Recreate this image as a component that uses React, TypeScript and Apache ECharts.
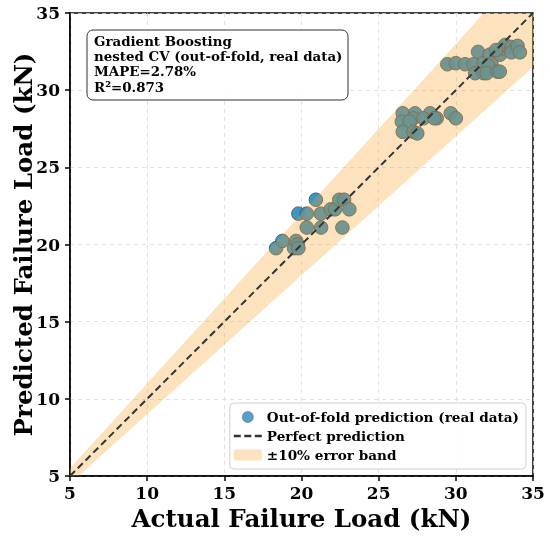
import React, { useEffect, useRef } from "react";
import * as echarts from "echarts";

const actualLoad: number[] = [
  18.35, 18.76, 19.52, 19.65, 19.75, 19.8, 19.8, 20.34, 20.34, 20.93, 21.25, 21.27, 21.9, 22.17, 22.45, 22.76, 23.1, 22.65,
  26.56, 27.36, 28.33, 29.67, 30.0, 26.5, 27.25, 27.9, 28.76, 27.0, 26.56, 27.25, 27.5, 28.6,
  29.45, 30.0, 30.6, 31.14, 31.25, 31.44, 31.8, 31.8, 32.2, 32.3, 32.1, 32.0, 32.7, 32.87, 32.98, 33.2, 33.6, 33.6, 34.0, 34.15, 32.85, 32.6,
];
const predictedLoad: number[] = [
  19.76, 20.23, 19.76, 20.23, 20.0, 19.76, 22.0, 22.0, 21.1, 22.9, 22.0, 21.1, 22.28, 22.28, 22.9, 22.9, 22.28, 21.1,
  28.5, 28.5, 28.5, 28.5, 28.18, 27.96, 28.18, 28.18, 28.18, 27.96, 27.3, 27.3, 27.2, 28.18,
  31.68, 31.75, 31.68, 31.68, 31.1, 32.48, 31.75, 31.1, 32.3, 31.75, 31.6, 31.1, 31.2, 32.3, 32.7, 32.93, 32.8, 32.45, 32.87, 32.45, 31.2, 32.6,
];
const axisMin = 5;
const axisMax = 35;
const tickStep = 5;
const bandFraction = 0.1;
const infoLines: string[] = [
  "Gradient Boosting",
  "nested CV (out-of-fold, real data)",
  "MAPE=2.78%",
  "R²=0.873",
];
const seriesNames = {
  scatter: "Out-of-fold prediction (real data)",
  perfect: "Perfect prediction",
  band: "±10% error band",
};

const FONT = "'DejaVu Serif', 'Liberation Serif', serif";
const BAND_FILL = "rgba(250,160,40,0.3)";
const POINT_COLOR = "#2f90bf";

export default function App() {
  const ref = useRef<HTMLDivElement>(null);
  useEffect(() => {
    if (!ref.current) return;
    const chart = echarts.init(ref.current, undefined, { renderer: "svg" });
    const lo = 1 - bandFraction;
    const hi = 1 + bandFraction;
    const bandPoly: number[][] = [
      [axisMin, axisMin],
      [axisMin / lo, axisMin],
      [axisMax, axisMax * lo],
      [axisMax, axisMax],
      [axisMax / hi, axisMax],
      [axisMin, axisMin * hi],
    ];
    const points = actualLoad.map((a, i) => [a, predictedLoad[i]]);
    const axisCommon = {
      type: "value" as const,
      min: axisMin,
      max: axisMax,
      interval: tickStep,
      axisLine: { show: true, lineStyle: { color: "#000", width: 1.5 } },
      axisTick: { show: true, length: 5, lineStyle: { color: "#000", width: 1.5 } },
      splitLine: { show: true, lineStyle: { color: "#d8d8d8", type: [4, 4] as number[], width: 0.8 } },
      nameLocation: "middle" as const,
      nameTextStyle: { color: "#000", fontFamily: FONT, fontWeight: "bold" as const, fontSize: 24.5 },
    };
    const labelStyle = { color: "#000", fontFamily: FONT, fontWeight: "bold" as const, fontSize: 17 };
    chart.setOption({
      animation: false,
      grid: {
        left: 70,
        right: 17,
        top: 13,
        bottom: 61,
        outerBoundsMode: "none",
        containLabel: false,
        show: true,
        borderColor: "#000",
        borderWidth: 1.5,
        backgroundColor: "transparent",
      },
      xAxis: { ...axisCommon, name: "Actual Failure Load (kN)", nameGap: 30, axisLabel: { ...labelStyle, margin: 8 } },
      yAxis: {
        ...axisCommon,
        name: "Predicted Failure Load (kN)",
        nameGap: 34,
        nameMoveOverlap: false,
        axisLabel: { ...labelStyle, margin: 10 },
      },
      legend: {
        orient: "vertical",
        right: 24,
        bottom: 68,
        itemWidth: 28,
        itemHeight: 11,
        itemGap: 5,
        itemTextGap: 10,
        padding: [7, 7, 7, 4],
        backgroundColor: "rgba(255,255,255,0.85)",
        borderColor: "#d0d0d0",
        borderWidth: 1,
        borderRadius: 4,
        textStyle: { color: "#000", fontFamily: FONT, fontWeight: "bold", fontSize: 13.6 },
        data: [
          { name: seriesNames.scatter, icon: "circle", itemStyle: { color: "#4a9cc8", borderColor: "#666", borderWidth: 0.6 } },
          {
            name: seriesNames.perfect,
            icon: "path://M0,4.3h7v2.4h-7z M10.5,4.3h7v2.4h-7z M21,4.3h7v2.4h-7z",
            itemStyle: { color: "#333" },
          },
          { name: seriesNames.band, icon: "rect", itemStyle: { color: BAND_FILL } },
        ],
      },
      series: [
        {
          type: "scatter",
          name: seriesNames.scatter,
          data: points,
          symbolSize: 13.5,
          z: 2,
          itemStyle: { color: POINT_COLOR, opacity: 0.95, borderColor: "#555", borderWidth: 1 },
        },
        {
          type: "custom",
          name: seriesNames.band,
          z: 3,
          data: [0],
          silent: true,
          itemStyle: { color: BAND_FILL },
          renderItem: (_params: any, api: any) => ({
            type: "polygon",
            shape: { points: bandPoly.map((p) => api.coord(p)) },
            style: { fill: BAND_FILL, stroke: "none" },
          }),
        },
        {
          type: "line",
          name: seriesNames.perfect,
          data: [
            [axisMin, axisMin],
            [axisMax, axisMax],
          ],
          z: 4,
          showSymbol: false,
          symbol: "none",
          itemStyle: { color: "#333" },
          lineStyle: { color: "#333", width: 2, type: [7, 4] },
        },
      ],
      graphic: [
        {
          type: "rect",
          z: 100,
          shape: { x: 87, y: 30, width: 261, height: 70, r: 6 },
          style: { fill: "rgba(255,255,255,0.92)", stroke: "#333", lineWidth: 1 },
        },
        {
          type: "text",
          z: 101,
          x: 94,
          y: 33,
          style: {
            text: infoLines.join("\n"),
            fontFamily: FONT,
            fontWeight: "bold",
            fontSize: 13.4,
            lineHeight: 15.3,
            fill: "#000",
          },
        },
      ],
    });
    return () => chart.dispose();
  }, []);
  return <div ref={ref} style={{ position: "fixed", left: 0, top: 0, width: 550, height: 537 }} />;
}
